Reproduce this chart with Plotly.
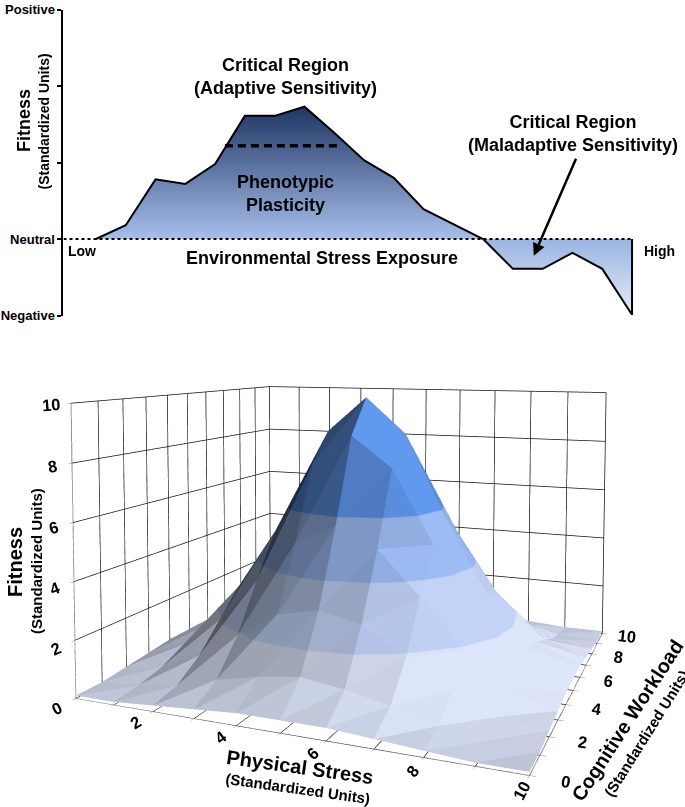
import plotly.graph_objects as go

FONT = "Liberation Sans, Arial, Helvetica, sans-serif"

# --- top panel: fitness vs environmental stress exposure ---
stress_exposure = [1, 2, 3, 4, 5, 6, 7, 8, 9, 10, 11, 12, 14, 15, 16, 17, 18, 19]
fitness_level = [0.0, 0.18, 0.78, 0.72, 0.98, 1.61, 1.61, 1.73, 1.39, 1.03, 0.80, 0.39,
                 0.0, -0.39, -0.39, -0.18, -0.39, -0.99]
crossing = 12  # index where the curve goes back to neutral
plasticity_level = 1.22
plasticity_span = [5.33, 9.19]
fitness_ticks = [-1, 0, 1, 2, 3]
fitness_tick_text = ["Negative", "Neutral", "", "", "Positive"]

# --- bottom panel: fitness surface ---
physical_stress = [0, 1, 2, 3, 4, 5, 6, 7, 8, 9, 10]
cognitive_workload = [0, 1, 2, 3, 4, 5, 6, 7, 8, 9, 10]
# rows = cognitive workload, columns = physical stress
fitness_surface = [
    [0.1, 0.1, 0.2, 0.3, 0.4, 0.4, 0.4, 0.3, 0.2, 0.1, 0.1],
    [0.1, 0.2, 0.4, 0.8, 1.1, 1.3, 1.1, 0.8, 0.4, 0.2, 0.1],
    [0.2, 0.4, 1.0, 1.9, 2.8, 3.1, 2.8, 1.9, 1.0, 0.4, 0.2],
    [0.3, 0.8, 1.9, 3.5, 5.0, 5.7, 5.0, 3.5, 1.9, 0.8, 0.3],
    [0.4, 1.1, 2.8, 5.0, 7.6, 8.7, 7.6, 5.0, 2.8, 1.1, 0.4],
    [0.4, 1.3, 3.1, 5.7, 8.7, 10.0, 8.7, 5.7, 3.1, 1.3, 0.4],
    [0.4, 1.1, 2.8, 5.0, 7.6, 8.7, 7.6, 5.0, 2.8, 1.1, 0.4],
    [0.3, 0.8, 1.9, 3.5, 5.0, 5.7, 5.0, 3.5, 1.9, 0.8, 0.3],
    [0.2, 0.4, 1.0, 1.9, 2.8, 3.1, 2.8, 1.9, 1.0, 0.4, 0.2],
    [0.1, 0.2, 0.4, 0.8, 1.1, 1.3, 1.1, 0.8, 0.4, 0.2, 0.1],
    [0.1, 0.1, 0.2, 0.3, 0.4, 0.4, 0.4, 0.3, 0.2, 0.1, 0.1],
]
fitness_3d_ticks = [0, 2, 4, 6, 8, 10]

# mesh vertices / triangles built from the grid above
vx, vy, vz = [], [], []
for j, cw in enumerate(cognitive_workload):
    for i, ps in enumerate(physical_stress):
        vx.append(ps)
        vy.append(cw)
        vz.append(fitness_surface[j][i])
n = len(physical_stress)
ti, tj, tk = [], [], []
for j in range(len(cognitive_workload) - 1):
    for i in range(n - 1):
        a = j * n + i
        c = a + n
        ti += [a, a]
        tj += [a + 1, c + 1]
        tk += [c + 1, c]

# banded colours (every 2 units, one band above 6)
band = ["#dde5fa", "#c2d3f7", "#9dbcf4", "#6199ef"]
band_scale = [[0, band[0]], [0.2, band[0]], [0.2, band[1]], [0.4, band[1]],
              [0.4, band[2]], [0.6, band[2]], [0.6, band[3]], [1, band[3]]]

fig = go.Figure()

pos_x = stress_exposure[:crossing + 1]
pos_y = fitness_level[:crossing + 1]
neg_x = stress_exposure[crossing:] + [stress_exposure[-1]]
neg_y = fitness_level[crossing:] + [0]

fig.add_trace(go.Scatter(
    x=pos_x, y=pos_y, mode="lines", fill="tozeroy",
    fillgradient=dict(type="vertical", colorscale=[[0, "#a7bfeb"], [1, "#1f3564"]]),
    line=dict(color="black", width=2), hoverinfo="skip"))
fig.add_trace(go.Scatter(
    x=neg_x, y=neg_y, mode="lines", fill="tozeroy",
    fillgradient=dict(type="vertical", colorscale=[[0, "#e4ebf8"], [1, "#9bb4e2"]]),
    line=dict(color="black", width=2), hoverinfo="skip"))
fig.add_trace(go.Scatter(
    x=plasticity_span, y=[plasticity_level] * 2, mode="lines",
    line=dict(color="black", width=3.5, dash="8px,5px"), hoverinfo="skip"))
fig.add_trace(go.Scatter(
    x=[-0.09, stress_exposure[-1]], y=[0, 0], mode="lines",
    line=dict(color="black", width=2, dash="3px,3px"), hoverinfo="skip"))

fig.add_trace(go.Mesh3d(
    x=vx, y=vy, z=vz, i=ti, j=tj, k=tk,
    intensity=vz, colorscale=band_scale, cmin=0, cmax=10, showscale=False,
    flatshading=True,
    lighting=dict(ambient=0.26, diffuse=0.8, specular=0.0, roughness=0.6, fresnel=0.1),
    lightposition=dict(x=-3.149, y=-2.371, z=1.00022),
    hoverinfo="skip"))

bold = lambda s: f"<b>{s}</b>" if s != "" else ""
even_text = [bold(str(v)) if v % 2 == 0 else "" for v in physical_stress]

axis3d = dict(
    range=[0, 10], showbackground=True, backgroundcolor="white",
    showgrid=True, gridcolor="#111111", gridwidth=1.5,
    showline=True, linecolor="#b5b5b5", linewidth=1,
    zeroline=False, showspikes=False,
    ticks="outside", ticklen=4, tickcolor="#888888", tickwidth=1,
    tickfont=dict(family=FONT, size=14, color="black"),
    title=dict(text=""),
)

fig.update_layout(
    width=685, height=807,
    margin=dict(l=0, r=0, t=0, b=0, autoexpand=False),
    paper_bgcolor="white", plot_bgcolor="rgba(0,0,0,0)",
    showlegend=False,
    font=dict(family=FONT, color="black"),
    xaxis=dict(domain=[0.0927, 0.9879], range=[-0.09, 20.5], visible=False),
    yaxis=dict(domain=[0.6090, 0.9882], range=[-1, 3], automargin=False,
               tickvals=fitness_ticks, ticktext=[bold(t) for t in fitness_tick_text],
               showline=True, linecolor="black", linewidth=2,
               ticks="outside", ticklen=4, tickwidth=1.5, tickcolor="black",
               showgrid=False, zeroline=False,
               tickfont=dict(family=FONT, size=13, color="black")),
    scene=dict(
        domain=dict(x=[0, 1], y=[0, 1]),
        xaxis=dict(axis3d, tickvals=physical_stress, ticktext=even_text),
        yaxis=dict(axis3d, tickvals=cognitive_workload, ticktext=even_text),
        zaxis=dict(axis3d, tickvals=fitness_3d_ticks,
                   ticktext=[bold(str(v)) for v in fitness_3d_ticks]),
        aspectmode="manual",
        aspectratio=dict(x=1, y=0.943, z=0.65),
        camera=dict(eye=dict(x=0.8485, y=-2.1833, z=0.4471),
                    center=dict(x=-0.0599, y=-0.0048, z=0.309),
                    up=dict(x=0, y=0, z=1),
                    projection=dict(type="perspective")),
    ),
)


def px_note(text, x, y, size, angle=0):
    fig.add_annotation(text=f"<b>{text}</b>", x=x / 685, y=1 - y / 807,
                       xref="paper", yref="paper", showarrow=False, textangle=angle,
                       xanchor="center", yanchor="middle",
                       font=dict(family=FONT, size=size, color="black"))


def data_note(text, x, y, size=18, anchor="center"):
    fig.add_annotation(text=f"<b>{text}</b>", x=x, y=y, xref="x", yref="y",
                       showarrow=False, xanchor=anchor, yanchor="middle",
                       font=dict(family=FONT, size=size, color="black"))


data_note("Critical Region<br>(Adaptive Sensitivity)", 7.35, 2.12)
data_note("Phenotypic<br>Plasticity", 7.35, 0.59)
data_note("Critical Region<br>(Maladaptive Sensitivity)", 17.02, 1.38)
data_note("Environmental Stress Exposure", 8.59, -0.25)
data_note("Low", 0.0, -0.16, size=14, anchor="left")
data_note("High", 19.33, -0.16, size=14, anchor="left")
fig.add_annotation(x=15.70, y=-0.22, ax=17.14, ay=1.07, xref="x", yref="y",
                   axref="x", ayref="y", text="", showarrow=True,
                   arrowhead=2, arrowsize=1, arrowwidth=2.5, arrowcolor="black")

px_note("Fitness", 24, 121, 18, -90)
px_note("(Standardized Units)", 43.5, 121, 14, -90)
px_note("Fitness", 15, 562, 20, -90)
px_note("(Standardized Units)", 36, 561, 15, -90)
px_note("Physical Stress", 300, 767, 20, 8)
px_note("(Standardized Units)", 298, 788, 15, 8)
px_note("Cognitive Workload", 627, 721, 20, -57)
px_note("(Standardized Units)", 646, 733, 15, -58)

fig.write_html("out.html", config={"displayModeBar": False},
               post_script="document.body.style.margin='0px';")
